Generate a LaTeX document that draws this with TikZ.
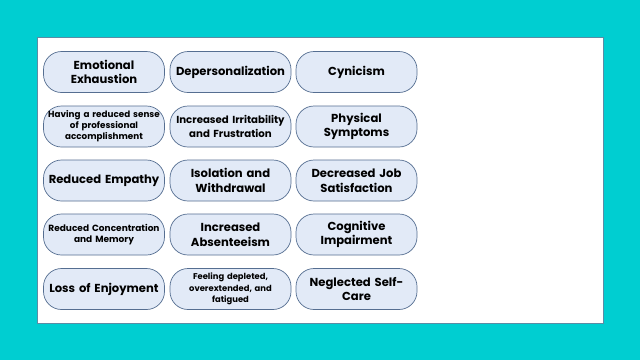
\documentclass[tikz,border=0pt]{standalone}
\usepackage{fontspec}
\setmainfont{Poppins}
\definecolor{slidebg}{RGB}{0,206,209}
\definecolor{panelline}{RGB}{90,140,165}
\definecolor{itemfill}{RGB}{226,234,247}
\definecolor{itemline}{RGB}{85,110,145}

\begin{document}
\begin{tikzpicture}[x=1pt, y=-1pt,
  item/.style={draw=itemline, fill=itemfill, line width=0.7pt, rounded corners=18pt,
    minimum width=121pt, minimum height=41pt, text width=119pt, inner sep=1pt,
    align=center, text=black, font=\bfseries\fontsize{11.6}{14.5}\selectfont},
  small/.style={font=\bfseries\fontsize{8.8}{11}\selectfont},
  tiny/.style={font=\bfseries\fontsize{8.4}{11.3}\selectfont}]
  % background and panel
  \fill[slidebg] (0,0) rectangle (640,360);
  \draw[panelline, fill=white, line width=0.8pt] (37.5,37.5) rectangle (603,323);
  % row 1
  \node[item] (exhaust) at (104,72) {Emotional\\Exhaustion};
  \node[item] (depers) at (230.5,72) {Depersonalization};
  \node[item] (cynic) at (356.5,72) {Cynicism};
  % row 2
  \node[item, small] (accomp) at (104,126.5) {Having a reduced sense\\of professional\\accomplishment};
  \node[item, font=\bfseries\fontsize{10.2}{13.5}\selectfont] (irrit) at (230.5,126.5) {Increased Irritability\\and Frustration};
  \node[item] (physic) at (356.5,126.5) {Physical\\Symptoms};
  % row 3
  \node[item] (empathy) at (104,180.5) {Reduced Empathy};
  \node[item] (isol) at (230.5,180.5) {Isolation and\\Withdrawal};
  \node[item] (jobsat) at (356.5,180.5) {Decreased Job\\Satisfaction};
  % row 4
  \node[item, font=\bfseries\fontsize{9}{11.5}\selectfont] (concen) at (104,234.5) {Reduced Concentration\\and Memory};
  \node[item] (absent) at (230.5,234.5) {Increased\\Absenteeism};
  \node[item] (cognit) at (356.5,234.5) {Cognitive\\Impairment};
  % row 5
  \node[item] (enjoy) at (104,289) {Loss of Enjoyment};
  \node[item, tiny] (deplet) at (230.5,289) {Feeling depleted,\\overextended, and\\fatigued};
  \node[item] (selfcare) at (356.5,289) {Neglected Self-\\Care};
\end{tikzpicture}
\end{document}
